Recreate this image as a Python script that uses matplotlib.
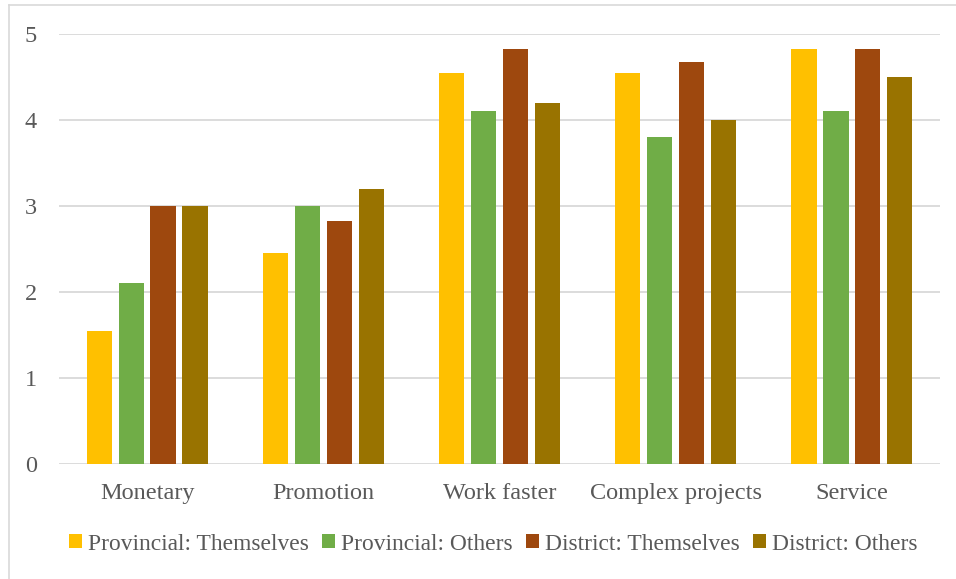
import matplotlib
matplotlib.use("Agg")
import matplotlib.pyplot as plt
from matplotlib.patches import Patch
from matplotlib.lines import Line2D
import numpy as np

categories = ["Monetary", "Promotion", "Work faster", "Complex projects", "Service"]
series_names = ["Provincial: Themselves", "Provincial: Others",
                "District: Themselves", "District: Others"]
provincial_themselves = [1.55, 2.45, 4.55, 4.55, 4.82]
provincial_others = [2.10, 3.00, 4.10, 3.80, 4.10]
district_themselves = [3.00, 2.83, 4.83, 4.67, 4.83]
district_others = [3.00, 3.20, 4.20, 4.00, 4.50]
y_ticks = [0, 1, 2, 3, 4, 5]

series = [provincial_themselves, provincial_others, district_themselves, district_others]
colors = ["#FFC000", "#70AD47", "#9E480E", "#997300"]
text_color = "#595959"
grid_color = "#D9D9D9"

plt.rcParams["font.family"] = ["Liberation Serif", "DejaVu Serif"]

W, H = 956, 579
fig = plt.figure(figsize=(W / 100, H / 100), dpi=100)
ax = fig.add_axes([59 / W, 1 - 464 / H, 881 / W, 430 / H])

x = np.arange(len(categories))
step = 0.181
width = 0.143
offsets = (np.arange(len(series)) - 1.5) * step
for vals, off, col, name in zip(series, offsets, colors, series_names):
    ax.bar(x + off, vals, width=width, color=col, label=name, zorder=3)

ax.set_xlim(-0.5, len(categories) - 0.5)
ax.set_ylim(0, 5)
ax.set_yticks(y_ticks)
ax.set_yticklabels([str(t) for t in y_ticks])
ax.set_xticks(x)
ax.set_xticklabels(categories)

for t in y_ticks:
    ax.axhline(t, color=grid_color, lw=1.3, zorder=1)

for s in ax.spines.values():
    s.set_visible(False)
ax.tick_params(axis="both", length=0, labelsize=17.5, colors=text_color)
ax.tick_params(axis="y", pad=16)
ax.tick_params(axis="x", pad=13.5)

handles = [Patch(facecolor=c, edgecolor="none") for c in colors]
fig.legend(handles, series_names, loc="center", bbox_to_anchor=(0.516, 1 - 544 / H),
           ncol=4, frameon=False, fontsize=16.9, labelcolor=text_color,
           handlelength=0.55, handleheight=0.55, handletextpad=0.25,
           columnspacing=0.58, borderpad=0)

# chart frame (top and left edges)
fig.add_artist(Line2D([9 / W, 1.0], [1 - 5 / H, 1 - 5 / H],
                      transform=fig.transFigure, color=grid_color, lw=1.2))
fig.add_artist(Line2D([9 / W, 9 / W], [0.0, 1 - 5 / H],
                      transform=fig.transFigure, color=grid_color, lw=1.2))

fig.savefig("out.png", dpi=100, facecolor="white")
